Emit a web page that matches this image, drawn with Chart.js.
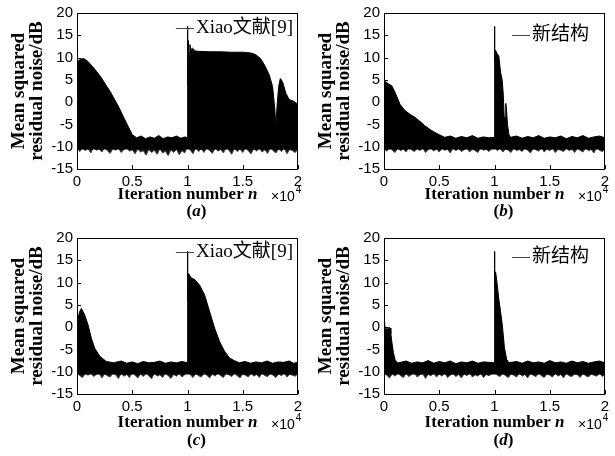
<!DOCTYPE html>
<html>
<head>
<meta charset="utf-8">
<script src="https://cdn.jsdelivr.net/npm/chart.js@4.4.1/dist/chart.umd.min.js"></script>
<style>
  body { margin: 0; background: #fff; }
  #wrap { position: relative; width: 615px; height: 456px; }
  canvas { position: absolute; }
</style>
</head>
<body>
<div id="wrap">
  <canvas id="panelA" width="307" height="228" style="left:0;top:0"></canvas>
  <canvas id="panelB" width="307" height="228" style="left:307px;top:0"></canvas>
  <canvas id="panelC" width="307" height="228" style="left:0;top:225px"></canvas>
  <canvas id="panelD" width="307" height="228" style="left:307px;top:225px"></canvas>
</div>
<script>
"use strict";

// iteration axis is in units of 10^4
const xTicks = [0, 0.5, 1, 1.5, 2];
const yTicks = [-15, -10, -5, 0, 5, 10, 15, 20];

// upper envelope of each noise trace (dB)
const iterA = [0, 0.03, 0.06, 0.1, 0.14, 0.18, 0.22, 0.26, 0.3, 0.34, 0.38, 0.42, 0.46, 0.5, 0.54, 0.58, 0.62, 0.66, 0.7, 0.74, 0.78, 0.82, 0.86, 0.9, 0.94, 0.98, 0.998, 1.0, 1.003, 1.008, 1.015, 1.022, 1.03, 1.045, 1.07, 1.1, 1.2, 1.3, 1.4, 1.5, 1.58, 1.62, 1.66, 1.7, 1.74, 1.77, 1.79, 1.8, 1.81, 1.825, 1.84, 1.86, 1.89, 1.92, 1.96, 2.0];
const topA = [9.0, 9.6, 9.8, 9.1, 8.0, 6.8, 5.5, 3.9, 2.4, 0.6, -1.2, -3.3, -5.3, -7.3, -8.0, -7.6, -8.2, -7.8, -8.1, -7.5, -8.2, -7.8, -8.0, -7.6, -8.1, -7.8, -8.0, 17.0, 4.0, 13.8, 10.5, 12.9, 11.8, 12.1, 11.5, 11.4, 11.3, 11.3, 11.2, 11.2, 11.0, 10.6, 9.8, 8.2, 6.1, 3.5, -1.5, -5.7, -1.0, 3.5, 5.3, 4.6, 2.0, 0.6, 0.2, -0.5];

const iterB = [0, 0.04, 0.07, 0.1, 0.145, 0.19, 0.24, 0.28, 0.33, 0.37, 0.42, 0.46, 0.5, 0.55, 0.6, 0.65, 0.7, 0.75, 0.8, 0.85, 0.9, 0.95, 0.998, 1.0, 1.003, 1.009, 1.02, 1.039, 1.055, 1.07, 1.079, 1.088, 1.093, 1.097, 1.102, 1.108, 1.118, 1.13, 1.145, 1.2, 1.25, 1.3, 1.35, 1.4, 1.45, 1.5, 1.55, 1.6, 1.65, 1.7, 1.75, 1.8, 1.85, 1.9, 1.95, 2.0];
const topB = [4.8, 4.1, 3.7, 2.2, -0.5, -1.9, -2.8, -3.4, -4.4, -5.3, -6.2, -6.8, -7.3, -7.9, -7.6, -8.1, -7.7, -8.0, -7.5, -8.1, -7.8, -8.0, -7.9, 17.0, 9.0, 11.7, 11.0, 10.4, 6.7, 4.9, 1.9, -3.4, -7.5, -3.5, -0.3, -1.5, -5.0, -7.2, -7.9, -7.6, -8.1, -7.7, -8.0, -7.5, -8.1, -7.8, -8.0, -7.6, -8.2, -7.7, -8.0, -7.5, -8.1, -7.8, -7.6, -8.0];

const iterC = [0, 0.004, 0.01, 0.024, 0.04, 0.07, 0.1, 0.13, 0.16, 0.205, 0.265, 0.33, 0.4, 0.45, 0.5, 0.55, 0.6, 0.65, 0.7, 0.75, 0.8, 0.85, 0.9, 0.95, 0.998, 1.0, 1.003, 1.01, 1.035, 1.065, 1.11, 1.155, 1.2, 1.245, 1.29, 1.335, 1.38, 1.43, 1.47, 1.52, 1.57, 1.62, 1.67, 1.72, 1.77, 1.82, 1.87, 1.92, 1.96, 2.0];
const topC = [6.5, 1.0, 2.0, 3.5, 4.2, 2.7, 0.5, -2.5, -4.7, -6.5, -7.7, -8.0, -7.6, -8.1, -7.8, -8.2, -7.7, -8.0, -7.9, -7.6, -8.1, -7.8, -8.0, -7.7, -8.0, 17.0, 6.0, 12.0, 11.0, 10.7, 9.4, 7.2, 3.5, -0.2, -3.2, -5.4, -6.9, -7.6, -8.0, -7.7, -8.1, -7.8, -8.0, -7.6, -8.1, -7.8, -7.9, -7.6, -8.1, -7.9];

const iterD = [0, 0.004, 0.012, 0.02, 0.026, 0.034, 0.045, 0.055, 0.062, 0.072, 0.085, 0.1, 0.115, 0.13, 0.2, 0.25, 0.3, 0.35, 0.4, 0.45, 0.5, 0.55, 0.6, 0.65, 0.7, 0.75, 0.8, 0.85, 0.9, 0.95, 0.998, 1.0, 1.003, 1.01, 1.025, 1.04, 1.055, 1.07, 1.09, 1.11, 1.13, 1.2, 1.25, 1.3, 1.35, 1.4, 1.45, 1.5, 1.55, 1.6, 1.65, 1.7, 1.75, 1.8, 1.85, 1.9, 1.95, 2.0];
const topD = [2.8, 1.5, -0.8, -0.3, -2.5, -0.4, 0.0, -0.2, -1.5, -3.5, -5.7, -7.3, -7.9, -8.0, -7.6, -8.1, -7.8, -8.0, -7.5, -8.1, -7.7, -8.0, -7.6, -8.2, -7.8, -8.0, -7.6, -8.1, -7.8, -7.9, -8.0, 17.0, 9.0, 12.4, 9.5, 6.1, 3.5, 0.6, -4.6, -7.2, -8.0, -7.7, -8.1, -7.6, -8.0, -7.8, -8.1, -7.5, -8.0, -7.8, -8.1, -7.6, -8.0, -7.7, -8.1, -7.8, -7.6, -8.0];

// lower noise floor, sampled every 0.025
const floorIter = [0, 0.025, 0.05, 0.075, 0.1, 0.125, 0.15, 0.175, 0.2, 0.225, 0.25, 0.275, 0.3, 0.325, 0.35, 0.375, 0.4, 0.425, 0.45, 0.475, 0.5, 0.525, 0.55, 0.575, 0.6, 0.625, 0.65, 0.675, 0.7, 0.725, 0.75, 0.775, 0.8, 0.825, 0.85, 0.875, 0.9, 0.925, 0.95, 0.975, 1.0, 1.025, 1.05, 1.075, 1.1, 1.125, 1.15, 1.175, 1.2, 1.225, 1.25, 1.275, 1.3, 1.325, 1.35, 1.375, 1.4, 1.425, 1.45, 1.475, 1.5, 1.525, 1.55, 1.575, 1.6, 1.625, 1.65, 1.675, 1.7, 1.725, 1.75, 1.775, 1.8, 1.825, 1.85, 1.875, 1.9, 1.925, 1.95, 1.975, 2.0];
const floorA = [-10.3, -11.1, -10.2, -10.9, -10.4, -11.4, -10.1, -10.8, -10.5, -11.2, -10.2, -10.9, -11.5, -10.4, -10.8, -10.3, -11.3, -10.6, -10.2, -11.0, -10.7, -11.6, -10.5, -11.2, -10.9, -11.9, -10.6, -11.3, -10.8, -11.7, -10.5, -11.4, -11.0, -12.0, -10.7, -11.3, -10.6, -11.8, -10.9, -11.4, -9.9, -10.8, -11.6, -10.2, -11.1, -10.5, -11.3, -10.1, -10.9, -11.5, -10.3, -11.0, -10.6, -11.4, -10.2, -10.8, -11.7, -10.4, -11.1, -10.5, -11.3, -10.2, -10.9, -11.6, -10.4, -11.0, -10.3, -11.2, -10.7, -11.5, -10.2, -10.9, -11.4, -10.5, -11.1, -10.3, -11.6, -10.6, -10.9, -11.3, -10.5];
const floorB = [-10.4, -11.0, -10.2, -10.8, -11.3, -10.3, -10.9, -10.5, -11.2, -10.1, -10.7, -11.1, -10.4, -10.9, -10.2, -11.3, -10.6, -10.3, -11.0, -10.5, -11.2, -10.3, -10.8, -10.6, -11.4, -10.2, -10.9, -10.4, -11.1, -10.7, -10.3, -11.2, -10.5, -10.9, -11.3, -10.2, -10.8, -10.6, -11.1, -10.4, -9.8, -10.9, -10.3, -11.2, -10.5, -10.8, -11.3, -10.2, -10.9, -10.6, -11.1, -10.3, -10.8, -11.4, -10.4, -10.7, -11.0, -10.2, -11.2, -10.5, -10.9, -10.3, -11.3, -10.6, -10.8, -11.1, -10.2, -10.9, -10.5, -11.3, -10.4, -10.8, -11.2, -10.3, -10.9, -10.6, -11.4, -10.2, -10.8, -11.1, -10.5];
const floorC = [-10.2, -10.9, -11.3, -10.4, -10.8, -10.2, -11.1, -10.6, -10.3, -11.4, -10.5, -10.9, -11.2, -10.3, -10.7, -11.5, -10.4, -11.0, -10.6, -11.3, -10.2, -10.8, -11.4, -10.5, -11.1, -10.3, -10.9, -11.6, -10.4, -11.0, -10.7, -11.3, -10.3, -10.9, -11.5, -10.6, -11.0, -10.4, -11.2, -10.7, -9.6, -10.7, -11.3, -10.4, -10.9, -11.2, -10.3, -10.8, -11.4, -10.5, -11.0, -10.2, -10.9, -11.3, -10.4, -10.7, -11.1, -10.3, -10.9, -11.4, -10.5, -10.8, -11.2, -10.3, -11.0, -10.6, -11.3, -10.2, -10.9, -11.1, -10.4, -10.8, -11.3, -10.5, -10.9, -10.2, -11.2, -10.6, -10.8, -11.0, -10.4];
const floorD = [-10.3, -10.8, -11.4, -10.5, -11.0, -10.2, -10.9, -11.3, -10.4, -11.1, -10.6, -10.3, -11.2, -10.7, -10.4, -11.5, -10.6, -10.9, -10.3, -11.2, -10.5, -11.0, -10.3, -11.3, -10.8, -10.4, -11.1, -10.6, -11.4, -10.5, -10.9, -10.3, -11.2, -10.7, -11.0, -10.4, -11.3, -10.6, -10.9, -10.5, -9.5, -10.8, -11.1, -10.4, -10.9, -11.3, -10.5, -10.8, -11.2, -10.3, -11.0, -10.6, -11.4, -10.4, -10.8, -11.1, -10.3, -10.9, -11.3, -10.5, -10.8, -11.2, -10.4, -11.0, -10.6, -11.4, -10.3, -10.9, -11.1, -10.5, -10.7, -11.3, -10.4, -10.9, -11.2, -10.5, -10.8, -11.0, -10.3, -11.1, -10.6];

const serif = '"Liberation Serif", "Times New Roman", "Noto Sans CJK SC", serif';
const sans = '"Liberation Sans", Arial, sans-serif';

// frame, inward ticks, legend, x title with italic n, x10^4 and panel caption
const panelDecor = {
    id: "panelDecor",
    afterDraw(chart, args, opts) {
        const { ctx, chartArea, scales } = chart;
        const { left, right, top, bottom } = chartArea;
        ctx.save();
        ctx.strokeStyle = "#000";
        ctx.lineWidth = 1;
        ctx.strokeRect(left + 0.5, top + 0.5, right - left - 1, bottom - top);

        ctx.beginPath();
        scales.x.ticks.forEach((t) => {
            const px = Math.round(scales.x.getPixelForValue(t.value)) + 0.5;
            ctx.moveTo(px, bottom);
            ctx.lineTo(px, bottom - 4);
        });
        scales.y.ticks.forEach((t) => {
            const py = Math.round(scales.y.getPixelForValue(t.value)) + 0.5;
            ctx.moveTo(left, py);
            ctx.lineTo(left + 4, py);
        });
        ctx.stroke();

        ctx.fillStyle = "#000";
        ctx.textBaseline = "middle";
        ctx.textAlign = "left";

        // legend: short line + label, inside the top right corner
        const label = chart.data.datasets[0].label;
        ctx.font = "19px " + serif;
        const lw = ctx.measureText(label).width;
        const lx = right - opts.legendRight - lw;
        const ly = top + opts.legendDown;
        ctx.fillText(label, lx, ly);
        ctx.strokeStyle = "#444";
        ctx.beginPath();
        ctx.moveTo(lx - 20, Math.round(ly) + 0.5);
        ctx.lineTo(lx - 2, Math.round(ly) + 0.5);
        ctx.stroke();

        const cx = (left + right) / 2;
        const part1 = "Iteration number ";
        ctx.font = "bold 17px " + serif;
        const w1 = ctx.measureText(part1).width;
        ctx.font = "italic bold 17px " + serif;
        const w2 = ctx.measureText("n").width;
        const tx = cx - (w1 + w2) / 2;
        const ty = bottom + opts.titleDown;
        ctx.font = "bold 17px " + serif;
        ctx.fillText(part1, tx, ty);
        ctx.font = "italic bold 17px " + serif;
        ctx.fillText("n", tx + w1, ty);

        ctx.font = "14px " + sans;
        const ex = right - 27;
        ctx.fillText("\u00d710", ex, ty + 2);
        const we = ctx.measureText("\u00d710").width;
        ctx.font = "10px " + sans;
        ctx.fillText("4", ex + we + 1, ty - 5);

        const cy = bottom + opts.captionDown;
        ctx.font = "bold 17px " + serif;
        const wp = ctx.measureText("(").width;
        ctx.font = "italic bold 17px " + serif;
        const wl = ctx.measureText(opts.letter).width;
        const kx = cx + 9 - (2 * wp + wl) / 2;
        ctx.font = "bold 17px " + serif;
        ctx.fillText("(", kx, cy);
        ctx.font = "italic bold 17px " + serif;
        ctx.fillText(opts.letter, kx + wp, cy);
        ctx.font = "bold 17px " + serif;
        ctx.fillText(")", kx + wp + wl, cy);
        ctx.restore();
    }
};

function toPoints(xs, ys) {
    return xs.map((x, i) => ({ x: x, y: ys[i] }));
}

function makePanel(canvasId, iter, top, floor, label, decor) {
    const ctx = document.getElementById(canvasId).getContext("2d");
    return new Chart(ctx, {
        type: "line",
        data: {
            datasets: [
                {
                    label: label,
                    data: toPoints(iter, top),
                    borderColor: "#000",
                    borderWidth: 1,
                    backgroundColor: "#000",
                    fill: { value: -10.6 },
                    pointRadius: 0,
                    tension: 0
                },
                {
                    label: "floor",
                    data: toPoints(floorIter, floor),
                    borderColor: "#444",
                    borderWidth: 1,
                    backgroundColor: "#111",
                    fill: { value: -9.4 },
                    pointRadius: 0,
                    tension: 0
                }
            ]
        },
        options: {
            responsive: false,
            animation: false,
            devicePixelRatio: 1,
            layout: { padding: { top: 11, right: 9, left: 0, bottom: 0 } },
            scales: {
                x: {
                    type: "linear",
                    min: 0,
                    max: 2,
                    afterBuildTicks: (s) => { s.ticks = xTicks.map((v) => ({ value: v })); },
                    ticks: {
                        color: "#000",
                        font: { family: sans, size: 15 },
                        padding: 4,
                        maxRotation: 0,
                        autoSkip: false,
                        callback: (value) => String(value)
                    },
                    grid: { display: false, drawTicks: false },
                    border: { display: false },
                    afterFit: (s) => { s.height = 59; }
                },
                y: {
                    min: -15,
                    max: 20,
                    afterBuildTicks: (s) => { s.ticks = yTicks.map((v) => ({ value: v })); },
                    ticks: { color: "#000", font: { family: sans, size: 15 }, padding: 4, callback: (value) => String(value) },
                    grid: { display: false, drawTicks: false },
                    border: { display: false },
                    title: {
                        display: true,
                        text: ["Mean squared", "residual noise/dB"],
                        color: "#000",
                        font: { family: serif, size: 19, weight: "bold", lineHeight: 0.9 },
                        padding: { top: 11, bottom: 0 }
                    },
                    afterFit: (s) => { s.width = 77; }
                }
            },
            plugins: {
                legend: { display: false },
                tooltip: { enabled: false },
                panelDecor: decor
            }
        },
        plugins: [panelDecor]
    });
}

makePanel("panelA", iterA, topA, floorA, "Xiao文献[9]",
    { letter: "a", legendRight: 5, legendDown: 15, titleDown: 26, captionDown: 43 });
makePanel("panelB", iterB, topB, floorB, "新结构",
    { letter: "b", legendRight: 16, legendDown: 22, titleDown: 26, captionDown: 43 });
makePanel("panelC", iterC, topC, floorC, "Xiao文献[9]",
    { letter: "c", legendRight: 5, legendDown: 14, titleDown: 29, captionDown: 47 });
makePanel("panelD", iterD, topD, floorD, "新结构",
    { letter: "d", legendRight: 16, legendDown: 19, titleDown: 29, captionDown: 47 });
</script>
</body>
</html>
